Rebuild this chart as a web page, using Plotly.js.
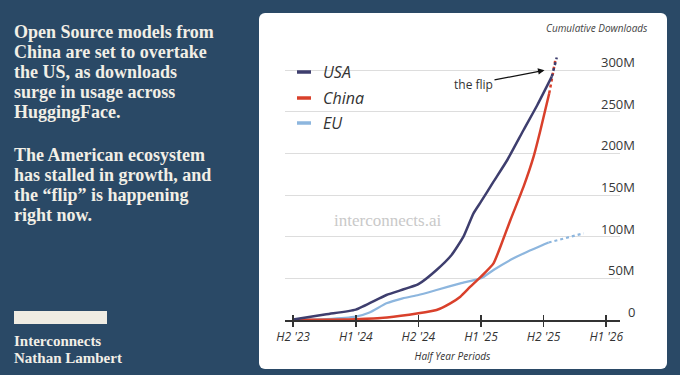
<!DOCTYPE html>
<html>
<head>
<meta charset="utf-8">
<script src="https://cdn.plot.ly/plotly-3.0.1.min.js"></script>
<style>
  html, body { margin: 0; padding: 0; }
  body { width: 680px; height: 375px; background: #2a4966; position: relative; overflow: hidden; }
  .side { position: absolute; left: 14px; color: #f2efe6; font-family: "Liberation Serif", serif; font-weight: bold; }
  #p1 { top: 22px; font-size: 18px; line-height: 20px; width: 245px; }
  #p2 { top: 145px; font-size: 18px; line-height: 20px; width: 245px; }
  #bar { position: absolute; left: 14px; top: 311px; width: 93px; height: 13px; background: #efece3; }
  #sig { top: 333px; font-size: 15px; line-height: 17px; }
  #panel { position: absolute; left: 259px; top: 13px; width: 408px; height: 356px; background: #ffffff; border-radius: 6px; }
  #chart { position: absolute; left: 0; top: 0; width: 680px; height: 375px; }
</style>
</head>
<body>
<div class="side" id="p1">Open Source models from<br>China are set to overtake<br>the US, as downloads<br>surge in usage across<br>HuggingFace.</div>
<div class="side" id="p2">The American ecosystem<br>has stalled in growth, and<br>the “flip” is happening<br>right now.</div>
<div id="bar"></div>
<div class="side" id="sig">Interconnects<br>Nathan Lambert</div>
<div id="panel"></div>
<div id="chart"></div>
<script>
// Half-year period index: 0 = H2 '23, 1 = H1 '24, ... 5 = H1 '26
const xTickVals = [0, 1, 2, 3, 4, 5];
const xTickText = ["H2 '23", "H1 '24", "H2 '24", "H1 '25", "H2 '25", "H1 '26"];
const yTickVals = [0, 50, 100, 150, 200, 250, 300];
const yTickText = ["0", "50M", "100M", "150M", "200M", "250M", "300M"];

const seriesNames = ["USA", "China", "EU"];
const seriesColors = ["#3e3e6e", "#d9402b", "#8db6de"];

// cumulative downloads, millions
const usaX = [0, 0.53, 1.0, 1.49, 2.0, 2.29, 2.53, 2.72, 2.88, 3.0, 3.2, 3.42, 3.68, 3.9, 4.13];
const usaY = [0.5, 7, 12.5, 30, 43, 60, 78, 100, 128, 142, 166, 192, 228, 258, 292];
const usaProjX = [4.13, 4.21];
const usaProjY = [292, 315];

const chinaX = [0, 1.0, 1.5, 2.0, 2.29, 2.51, 2.67, 2.83, 3.0, 3.2, 3.31, 3.47, 3.68, 3.84, 3.95, 4.09];
const chinaY = [0.3, 1, 3, 8, 12, 20, 28, 40, 52, 68, 88, 120, 160, 196, 228, 272];
const chinaProjX = [4.09, 4.19];
const chinaProjY = [272, 313];

const euX = [0, 0.53, 1.0, 1.22, 1.49, 1.75, 2.0, 2.29, 2.67, 3.0, 3.2, 3.52, 3.74, 4.08];
const euY = [0, 1, 4, 9, 20, 26, 30, 36, 44, 50, 60, 74, 82, 93];
const euProjX = [4.08, 4.64];
const euProjY = [93, 104];

const flipText = "the flip";
const yTitle = "Cumulative Downloads";
const xTitle = "Half Year Periods";
const watermark = "interconnects.ai";

const L = 285, R = 620, T = 45, B = 320; // plot area in page pixels
const px = p => (p - L) / (R - L);
const py = p => (B - p) / (B - T);

function line(x, y, i, dash, w) {
  return { x: x, y: y, type: 'scatter', mode: 'lines', name: seriesNames[i], showlegend: false,
    line: { color: seriesColors[i], width: w, dash: dash, shape: 'spline', smoothing: 0.5 }, hoverinfo: 'skip' };
}

const traces = [
  line(euX, euY, 2, 'solid', 2.2),
  line(euProjX, euProjY, 2, 'dot', 2.2),
  line(chinaX, chinaY, 1, 'solid', 2.5),
  line(chinaProjX, chinaProjY, 1, 'dot', 2.5),
  line(usaX, usaY, 0, 'solid', 2.5),
  line(usaProjX, usaProjY, 0, 'dot', 2.5),
];

const annotations = [];
const shapes = [];

// y tick labels (right side, above gridlines)
yTickVals.forEach((v, k) => {
  annotations.push({ xref: 'paper', yref: 'y', x: px(637), y: v, xanchor: 'right', yanchor: 'middle',
    yshift: 8, text: yTickText[k], showarrow: false, font: { family: 'Open Sans', size: 13, color: '#383838' } });
});

// custom legend
const legY = [72, 98, 123];
seriesNames.forEach((n, i) => {
  shapes.push({ type: 'line', xref: 'paper', yref: 'paper', x0: px(297), x1: px(311), y0: py(legY[i]), y1: py(legY[i]),
    line: { color: seriesColors[i], width: 3.5 } });
  annotations.push({ xref: 'paper', yref: 'paper', x: px(321), y: py(legY[i]), xanchor: 'left', yanchor: 'middle',
    text: n, showarrow: false, font: { family: 'Open Sans', size: 16, color: '#333', style: 'italic' } });
});

// white covers for gridlines in legend / annotation region
shapes.push({ type: 'rect', xref: 'paper', yref: 'paper', x0: 0, x1: px(500), y0: py(125), y1: py(95),
  fillcolor: '#fff', line: { width: 0 }, layer: 'between' });
shapes.push({ type: 'rect', xref: 'paper', yref: 'paper', x0: 0, x1: px(553), y0: py(80), y1: py(55),
  fillcolor: '#fff', line: { width: 0 }, layer: 'between' });

annotations.push({ xref: 'x', yref: 'y', x: 4.03, y: 300, ax: -72, ay: 14, text: flipText,
  showarrow: true, arrowhead: 2, arrowsize: 1, arrowwidth: 1.3, arrowcolor: '#111', standoff: 1,
  font: { family: 'Open Sans', size: 12, color: '#333' } });
annotations.push({ xref: 'paper', yref: 'paper', x: px(597), y: py(28), xanchor: 'center', yanchor: 'middle',
  text: yTitle, showarrow: false, font: { family: 'Open Sans', size: 10, color: '#444', style: 'italic' } });
annotations.push({ xref: 'paper', yref: 'paper', x: px(387), y: py(220), xanchor: 'center', yanchor: 'middle',
  text: watermark, showarrow: false, font: { family: 'Liberation Serif', size: 17, color: '#c9c9c9' } });

const layout = {
  width: 680, height: 375,
  margin: { l: L, r: 680 - R, t: T, b: 375 - B, pad: 0 },
  paper_bgcolor: 'rgba(0,0,0,0)', plot_bgcolor: 'rgba(0,0,0,0)',
  showlegend: false,
  xaxis: {
    range: [-0.13, 5.22], tickvals: xTickVals, ticktext: xTickText,
    showgrid: false, zeroline: false, showline: true, linecolor: '#333', linewidth: 2,
    ticks: 'outside', ticklen: 5, tickwidth: 1.5, tickcolor: '#333',
    tickfont: { family: 'Open Sans', size: 12, color: '#333', style: 'italic' },
    title: { text: xTitle, standoff: 9, font: { family: 'Open Sans', size: 10, color: '#333', style: 'italic' } },
    fixedrange: true
  },
  xaxis2: {
    overlaying: 'x', matches: 'x', range: [-0.13, 5.22], tickvals: xTickVals, showticklabels: false,
    showgrid: false, zeroline: false, showline: false,
    ticks: 'inside', ticklen: 5, tickwidth: 1.5, tickcolor: '#333', anchor: 'y'
  },
  yaxis: {
    range: [0, 330], tickvals: yTickVals, showticklabels: false,
    showgrid: true, gridcolor: '#dddddd', gridwidth: 1, zeroline: false, showline: false, ticks: '',
    fixedrange: true
  },
  annotations: annotations,
  shapes: shapes
};

// invisible trace to activate xaxis2 ticks
traces.push({ x: [0], y: [0], xaxis: 'x2', yaxis: 'y', type: 'scatter', mode: 'markers',
  marker: { opacity: 0 }, showlegend: false, hoverinfo: 'skip' });

Plotly.newPlot('chart', traces, layout, { displayModeBar: false, staticPlot: true });
</script>
</body>
</html>
